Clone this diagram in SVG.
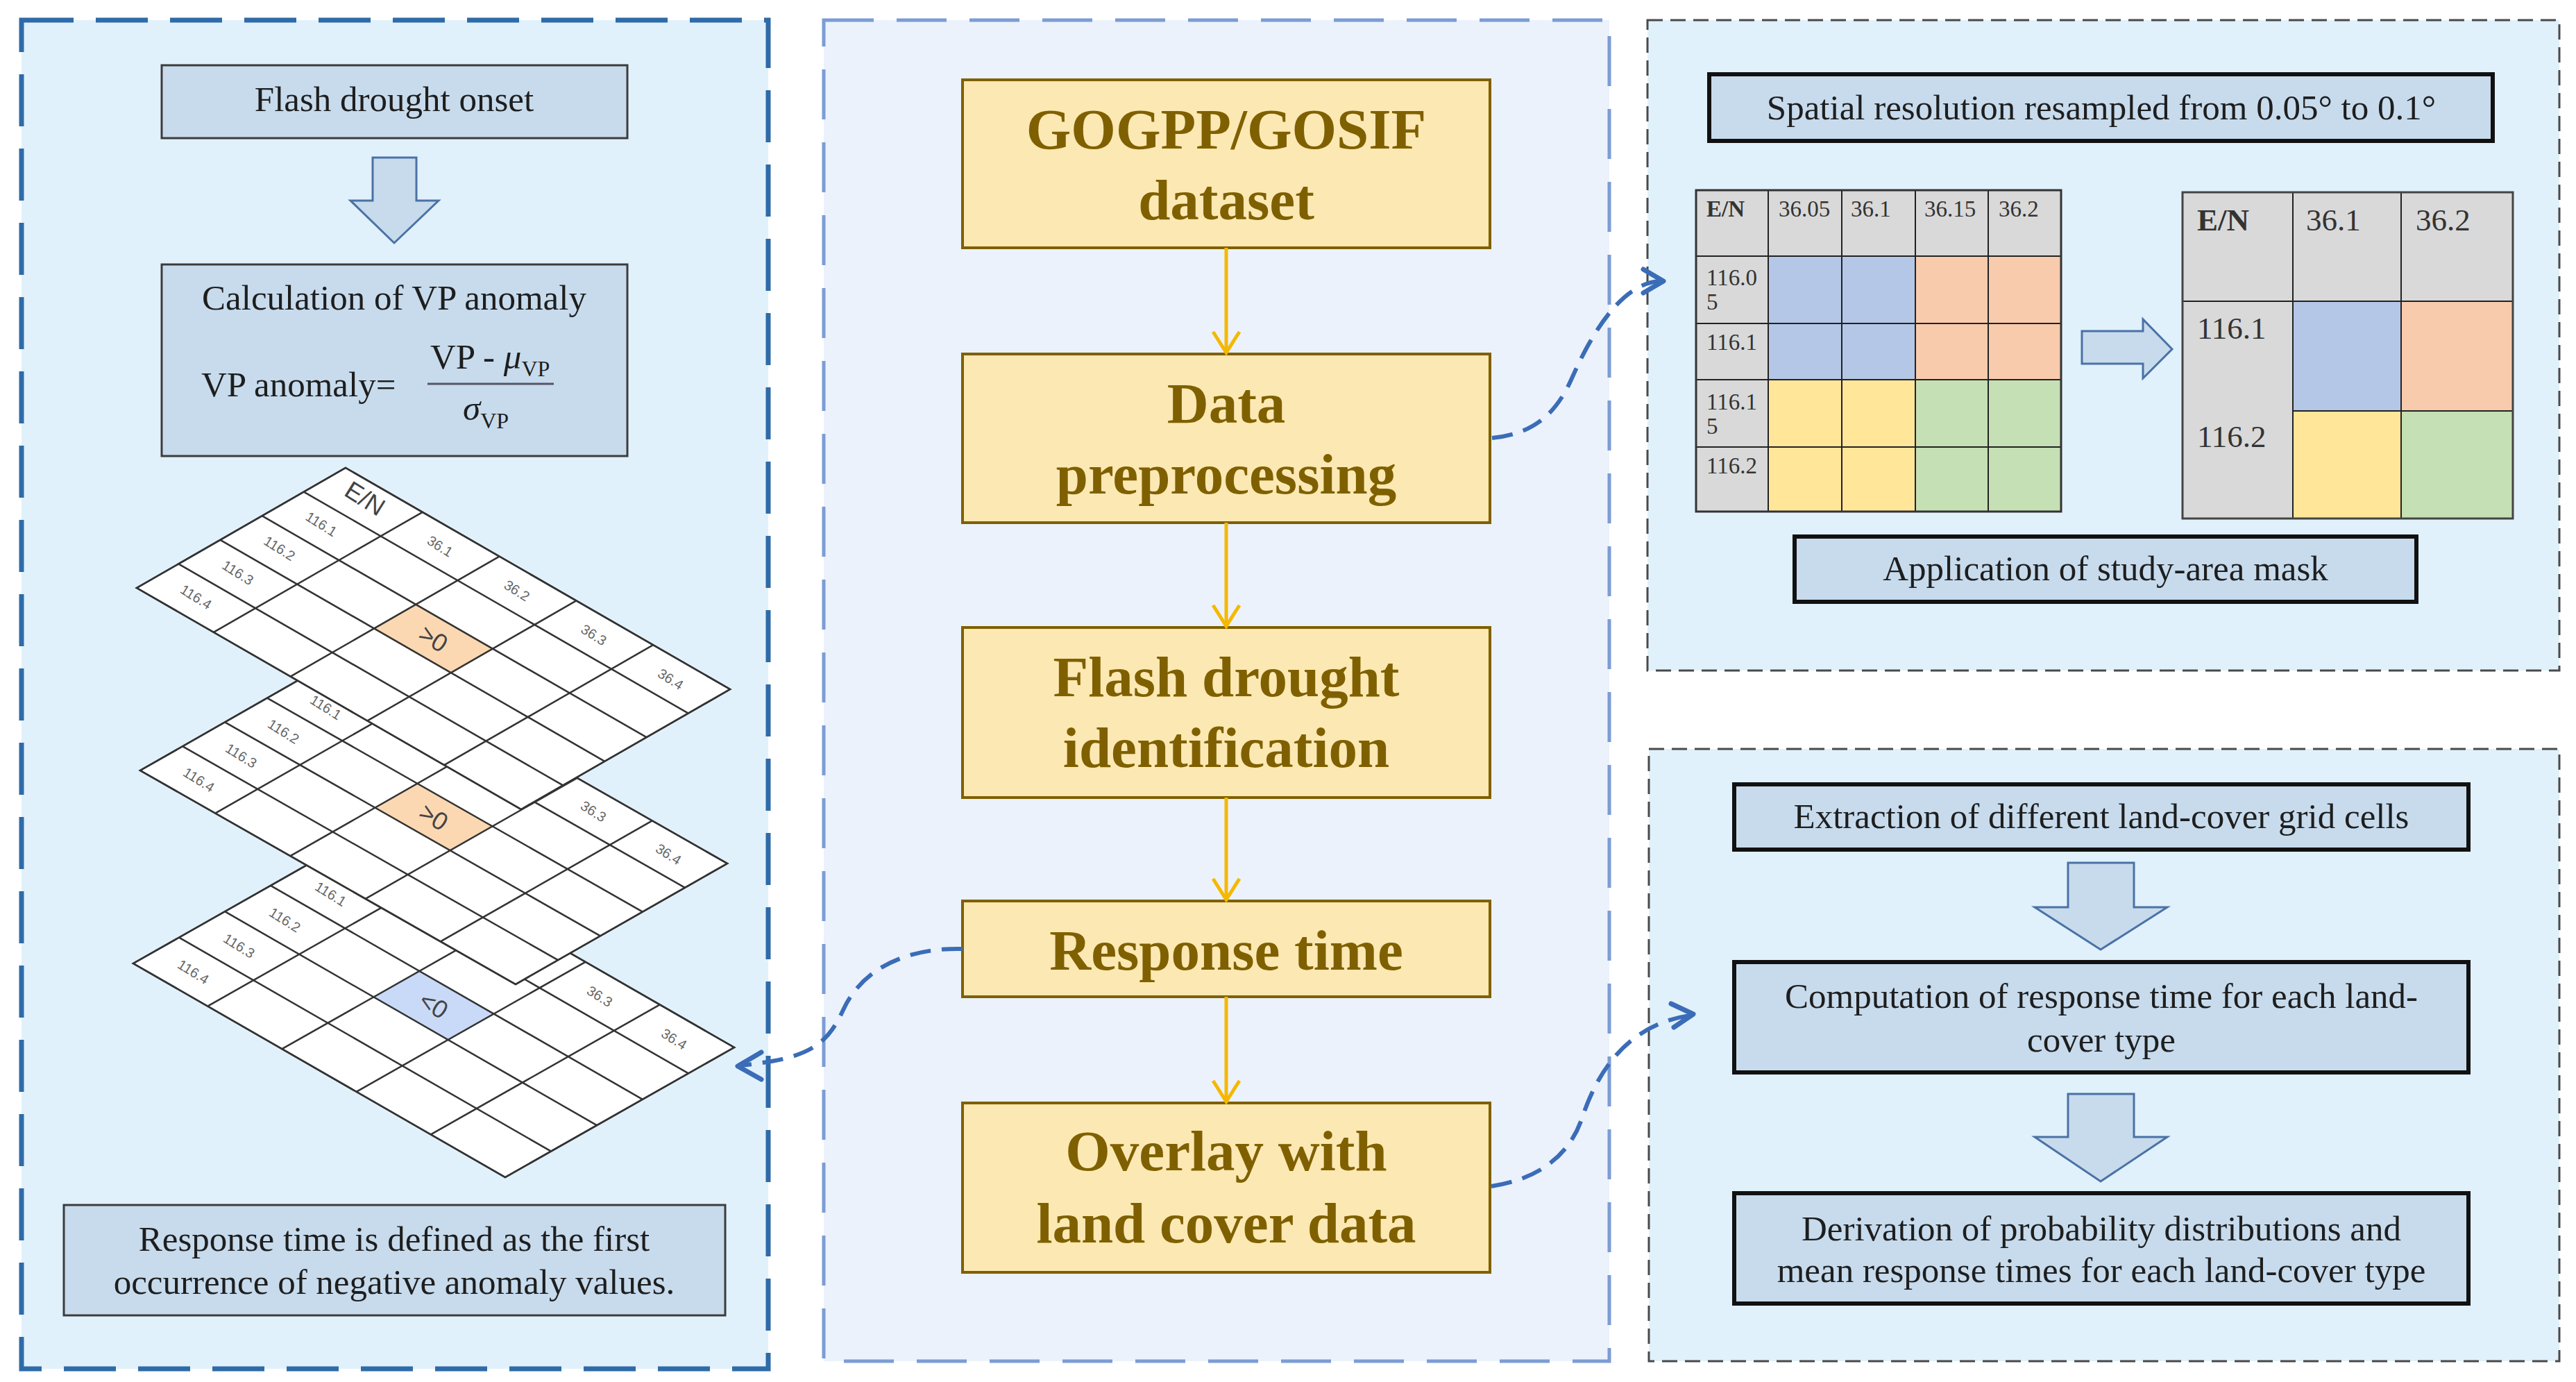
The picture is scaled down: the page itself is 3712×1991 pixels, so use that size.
<svg xmlns="http://www.w3.org/2000/svg" width="3712" height="1991" viewBox="0 0 3712 1991">
<defs>
<style>
.serif{font-family:"Liberation Serif","Times New Roman",serif;}
.t52{font-family:"Liberation Serif","Times New Roman",serif;font-size:51px;fill:#1e1e1e;}
.bold{font-family:"Liberation Serif","Times New Roman",serif;font-size:83px;font-weight:bold;fill:#7f6000;text-anchor:middle;}
.ybox{fill:#fce8b2;stroke:#7f6000;stroke-width:4;}
.bbox{fill:#c7dbed;stroke:#3c3c3c;stroke-width:3;}
.kbox{fill:#c7dbed;stroke:#111;stroke-width:6;}
.harrow{fill:#c7dbed;stroke:#4a72a6;stroke-width:3;stroke-linejoin:miter;}
.yline{stroke:#f5b800;stroke-width:5;fill:none;}
.conn{stroke:#3b6cb7;stroke-width:6;fill:none;stroke-dasharray:30 16;}
.chev{stroke:#3b6cb7;stroke-width:7;fill:none;stroke-linecap:round;stroke-linejoin:round;}
.grid{stroke:#333;stroke-width:2.5;fill:none;vector-effect:non-scaling-stroke;}
.gfill{fill:#ffffff;stroke:#333;stroke-width:2.5;vector-effect:non-scaling-stroke;}
.glab{font-family:"Liberation Sans",Arial,sans-serif;font-size:20px;fill:#666;text-anchor:middle;dominant-baseline:central;}
.gbig{font-family:"Liberation Sans",Arial,sans-serif;font-size:36px;fill:#444;text-anchor:middle;dominant-baseline:central;}
.tcell{stroke:#222;stroke-width:2;}
.tl{font-family:"Liberation Serif","Times New Roman",serif;font-size:33px;fill:#333;}
.tr{font-family:"Liberation Serif","Times New Roman",serif;font-size:45px;fill:#333;}
</style>
</defs>
<rect x="0" y="0" width="3712" height="1991" fill="#ffffff"/>

<!-- panels -->
<g id="panel-left">
<rect x="31" y="29" width="1076" height="1943" fill="#e1f1fb" stroke="#2e6ba8" stroke-width="7" stroke-dasharray="75 32"/>
</g>
<g id="panel-middle">
<rect x="1187" y="29" width="1132" height="1932" fill="#ebf2fc" stroke="#7c9cd4" stroke-width="5" stroke-dasharray="72 33"/>
</g>
<g id="panel-right-top">
<rect x="2374" y="29" width="1314" height="937" fill="#e0f1fb" stroke="#4a4a4a" stroke-width="3" stroke-dasharray="22 11"/>
</g>
<g id="panel-right-bottom">
<rect x="2376" y="1079" width="1312" height="882" fill="#e0f1fb" stroke="#4a4a4a" stroke-width="3" stroke-dasharray="22 11"/>
</g>

<!-- left panel nodes -->
<g id="onset">
<rect class="bbox" x="233" y="94" width="671" height="105"/>
<text class="t52" x="568" y="160" text-anchor="middle">Flash drought onset</text>
</g>
<g id="arrow-left-1">
<polygon class="harrow" points="537,227 600,227 600,289 632,289 568,350 505,289 537,289"/>
</g>
<g id="vp-anomaly">
<rect class="bbox" x="233" y="381" width="671" height="276"/>
<text class="t52" x="568" y="446" text-anchor="middle">Calculation of VP anomaly</text>
<text class="t52" x="290" y="571">VP anomaly=</text>
<text class="t52" x="620" y="531">VP - <tspan font-style="italic">μ</tspan><tspan font-size="32" dy="11">VP</tspan></text>
<line x1="616" y1="553" x2="798" y2="553" stroke="#556" stroke-width="3"/>
<text class="t52" x="667" y="605"><tspan font-style="italic">σ</tspan><tspan font-size="32" dy="12">VP</tspan></text>
</g>

<!-- isometric grids -->
<g id="grid-layer-3">
<g transform="matrix(107.2 61.6 -66 37.4 522 1201)">
<polygon class="gfill" points="0,0 5,0 5,5 0,5"/>
<polygon points="2,2 3,2 3,3 2,3" fill="#c9daf8"/>
<path class="grid" d="M0,1H5M0,2H5M0,3H5M0,4H5M1,0V5M2,0V5M3,0V5M4,0V5"/>
<polygon class="grid" points="0,0 5,0 5,5 0,5"/>
</g>
<g class="glab">
<text transform="translate(649.8,1312.1) rotate(32)">36.1</text>
<text transform="translate(757,1373.7) rotate(32)">36.2</text>
<text transform="translate(864.2,1435.3) rotate(32)">36.3</text>
<text transform="translate(971.4,1496.9) rotate(32)">36.4</text>
<text transform="translate(476.6,1287.9) rotate(32)">116.1</text>
<text transform="translate(410.6,1325.3) rotate(32)">116.2</text>
<text transform="translate(344.6,1362.7) rotate(32)">116.3</text>
<text transform="translate(278.6,1400.1) rotate(32)">116.4</text>
</g>
<text class="gbig" transform="translate(625,1448) rotate(32)">&lt;0</text>
</g>

<g id="grid-layer-2">
<g transform="matrix(108.2 61.6 -61 34.8 507 936)">
<polygon class="gfill" points="0,0 5,0 5,5 0,5"/>
<polygon points="2,2 3,2 3,3 2,3" fill="#fbd8b2"/>
<path class="grid" d="M0,1H5M0,2H5M0,3H5M0,4H5M1,0V5M2,0V5M3,0V5M4,0V5"/>
<polygon class="grid" points="0,0 5,0 5,5 0,5"/>
</g>
<g class="glab">
<text transform="translate(638.8,1045.8) rotate(32)">36.1</text>
<text transform="translate(747,1107.4) rotate(32)">36.2</text>
<text transform="translate(855.2,1169) rotate(32)">36.3</text>
<text transform="translate(963.4,1230.6) rotate(32)">36.4</text>
<text transform="translate(469.6,1019) rotate(32)">116.1</text>
<text transform="translate(408.6,1053.8) rotate(32)">116.2</text>
<text transform="translate(347.6,1088.6) rotate(32)">116.3</text>
<text transform="translate(286.6,1123.4) rotate(32)">116.4</text>
</g>
<text class="gbig" transform="translate(625,1177) rotate(32)">&gt;0</text>
</g>

<g id="grid-layer-1">
<g transform="matrix(110.8 63.8 -60.2 34.6 498 674)">
<polygon class="gfill" points="0,0 5,0 5,5 0,5"/>
<polygon points="2,2 3,2 3,3 2,3" fill="#fbd8b2"/>
<path class="grid" d="M0,1H5M0,2H5M0,3H5M0,4H5M1,0V5M2,0V5M3,0V5M4,0V5"/>
<polygon class="grid" points="0,0 5,0 5,5 0,5"/>
</g>
<text class="gbig" transform="translate(526,718) rotate(32)" font-size="40" fill="#333">E/N</text>
<g class="glab">
<text transform="translate(634.1,787) rotate(32)">36.1</text>
<text transform="translate(744.9,850.8) rotate(32)">36.2</text>
<text transform="translate(855.7,914.6) rotate(32)">36.3</text>
<text transform="translate(966.5,978.4) rotate(32)">36.4</text>
<text transform="translate(463.1,755) rotate(32)">116.1</text>
<text transform="translate(402.9,790) rotate(32)">116.2</text>
<text transform="translate(342.7,825) rotate(32)">116.3</text>
<text transform="translate(282.5,860) rotate(32)">116.4</text>
</g>
<text class="gbig" transform="translate(624.5,920) rotate(32)">&gt;0</text>
</g>

<g id="response-def">
<rect class="bbox" x="92" y="1736" width="953" height="159"/>
<text class="t52" x="568" y="1802" text-anchor="middle">Response time is defined as the first</text>
<text class="t52" x="568" y="1864" text-anchor="middle">occurrence of negative anomaly values.</text>
</g>

<!-- middle panel nodes -->
<g id="gogpp">
<rect class="ybox" x="1387" y="115" width="760" height="242"/>
<text class="bold" x="1767" y="214">GOGPP/GOSIF</text>
<text class="bold" x="1767" y="316">dataset</text>
</g>
<g id="preprocessing">
<rect class="ybox" x="1387" y="510" width="760" height="243"/>
<text class="bold" x="1767" y="609">Data</text>
<text class="bold" x="1767" y="711">preprocessing</text>
</g>
<g id="identification">
<rect class="ybox" x="1387" y="904" width="760" height="245"/>
<text class="bold" x="1767" y="1003">Flash drought</text>
<text class="bold" x="1767" y="1105">identification</text>
</g>
<g id="response-time">
<rect class="ybox" x="1387" y="1298" width="760" height="138"/>
<text class="bold" x="1767" y="1397">Response time</text>
</g>
<g id="overlay">
<rect class="ybox" x="1387" y="1589" width="760" height="244"/>
<text class="bold" x="1767" y="1686">Overlay with</text>
<text class="bold" x="1767" y="1790">land cover data</text>
</g>

<!-- right top nodes -->
<g id="resample">
<rect class="kbox" x="2463" y="107" width="1129" height="96"/>
<text class="t52" x="3028" y="172" text-anchor="middle">Spatial resolution resampled from 0.05° to 0.1°</text>
</g>
<g id="table-fine">
<rect class="tcell" x="2444" y="274" width="526" height="95" fill="#d9d9d9"/>
<rect class="tcell" x="2444" y="369" width="104" height="368" fill="#d9d9d9"/>
<rect class="tcell" x="2548" y="369" width="212" height="178" fill="#b4c7e7"/>
<rect class="tcell" x="2760" y="369" width="210" height="178" fill="#f8cbad"/>
<rect class="tcell" x="2548" y="547" width="212" height="190" fill="#ffe699"/>
<rect class="tcell" x="2760" y="547" width="210" height="190" fill="#c5e0b4"/>
<path class="tcell" fill="none" d="M2548,274V737M2654,274V737M2760,274V737M2865,274V737M2444,369H2970M2444,466H2970M2444,547H2970M2444,644H2970"/>
<rect x="2444" y="274" width="526" height="463" fill="none" stroke="#333" stroke-width="3"/>
<text class="tl" x="2459" y="312" font-weight="bold">E/N</text>
<text class="tl" x="2563" y="312">36.05</text>
<text class="tl" x="2667" y="312">36.1</text>
<text class="tl" x="2773" y="312">36.15</text>
<text class="tl" x="2880" y="312">36.2</text>
<text class="tl" x="2459" y="411">116.0</text>
<text class="tl" x="2459" y="446">5</text>
<text class="tl" x="2459" y="504">116.1</text>
<text class="tl" x="2459" y="590">116.1</text>
<text class="tl" x="2459" y="625">5</text>
<text class="tl" x="2459" y="682">116.2</text>
</g>
<g id="arrow-resample">
<polygon class="harrow" points="3000,477 3088,477 3088,460 3130,503 3088,545 3088,524 3000,524"/>
</g>
<g id="table-coarse">
<rect class="tcell" x="3145" y="277" width="476" height="157" fill="#d9d9d9"/>
<rect class="tcell" x="3145" y="434" width="159" height="313" fill="#d9d9d9"/>
<rect class="tcell" x="3304" y="434" width="156" height="158" fill="#b4c7e7"/>
<rect class="tcell" x="3460" y="434" width="161" height="158" fill="#f8cbad"/>
<rect class="tcell" x="3304" y="592" width="156" height="155" fill="#ffe699"/>
<rect class="tcell" x="3460" y="592" width="161" height="155" fill="#c5e0b4"/>
<path class="tcell" fill="none" d="M3304,277V747M3460,277V747"/>
<rect x="3145" y="277" width="476" height="470" fill="none" stroke="#444" stroke-width="3"/>
<text class="tr" x="3166" y="332" font-weight="bold">E/N</text>
<text class="tr" x="3323" y="332">36.1</text>
<text class="tr" x="3481" y="332">36.2</text>
<text class="tr" x="3166" y="488">116.1</text>
<text class="tr" x="3166" y="644">116.2</text>
</g>
<g id="mask">
<rect class="kbox" x="2586" y="773" width="896" height="94"/>
<text class="t52" x="3034" y="836" text-anchor="middle">Application of study-area mask</text>
</g>

<!-- right bottom nodes -->
<g id="extraction">
<rect class="kbox" x="2499" y="1130" width="1058" height="94"/>
<text class="t52" x="3028" y="1193" text-anchor="middle">Extraction of different land-cover grid cells</text>
</g>
<g id="arrow-right-1">
<polygon class="harrow" points="2980,1243 3075,1243 3075,1307 3123,1307 3027,1368 2932,1307 2980,1307"/>
</g>
<g id="computation">
<rect class="kbox" x="2499" y="1386" width="1058" height="159"/>
<text class="t52" x="3028" y="1452" text-anchor="middle">Computation of response time for each land-</text>
<text class="t52" x="3028" y="1515" text-anchor="middle">cover type</text>
</g>
<g id="arrow-right-2">
<polygon class="harrow" points="2980,1576 3075,1576 3075,1638 3123,1638 3027,1702 2932,1638 2980,1638"/>
</g>
<g id="derivation">
<rect class="kbox" x="2499" y="1719" width="1058" height="159"/>
<text class="t52" x="3028" y="1787" text-anchor="middle">Derivation of probability distributions and</text>
<text class="t52" x="3028" y="1847" text-anchor="middle">mean response times for each land-cover type</text>
</g>

<!-- connectors -->
<g id="connectors">
<line class="yline" x1="1767" y1="357" x2="1767" y2="506"/>
<polyline class="yline" points="1748,478 1767,508 1786,478"/>
<line class="yline" x1="1767" y1="753" x2="1767" y2="900"/>
<polyline class="yline" points="1748,872 1767,902 1786,872"/>
<line class="yline" x1="1767" y1="1149" x2="1767" y2="1294"/>
<polyline class="yline" points="1748,1266 1767,1296 1786,1266"/>
<line class="yline" x1="1767" y1="1436" x2="1767" y2="1585"/>
<polyline class="yline" points="1748,1557 1767,1587 1786,1557"/>

<path class="conn" d="M2150,631 C2215,625 2245,590 2265,545 S2330,408 2392,405"/>
<polyline class="chev" points="2368,388 2397,405 2368,422"/>

<path class="conn" d="M1387,1367 C1300,1365 1240,1400 1215,1455 S1160,1525 1068,1535"/>
<polyline class="chev" points="1097,1516 1063,1536 1097,1555"/>

<path class="conn" d="M2149,1709 C2210,1700 2260,1670 2280,1610 S2340,1478 2434,1463"/>
<polyline class="chev" points="2408,1446 2440,1461 2412,1480"/>
</g>
</svg>
